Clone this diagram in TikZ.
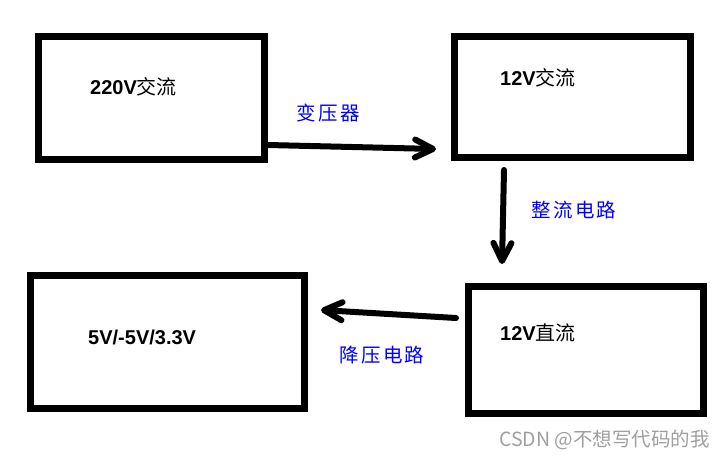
\documentclass[tikz,border=0pt]{standalone}
\usepackage{fontspec}
\setmainfont{Liberation Sans}
\newfontfamily\cjk{Noto Sans CJK SC}
\newfontfamily\cjklab[LetterSpace=12]{Noto Sans CJK SC}
\usetikzlibrary{arrows.meta}

\begin{document}
\begin{tikzpicture}[x=1pt,y=-1pt,
  box/.style={draw,line width=7pt,inner sep=0pt,outer sep=0pt},
  txt/.style={anchor=west,inner sep=0pt,font=\fontsize{20}{20}\selectfont},
  lab/.style={text=blue,inner sep=0pt,font=\fontsize{19.5}{19.5}\selectfont\cjklab},
  arr/.style={line width=6pt,line cap=round,-{Straight Barb[length=18pt,width=18pt,line cap=round,line join=round]}}]
  \useasboundingbox (0,0) rectangle (726,459);
  % bloky
  \node[box,minimum width=226pt,minimum height=123pt] (ac220) at (151.5,98) {};
  \node[box,minimum width=236pt,minimum height=121pt] (ac12) at (572.5,97) {};
  \node[box,minimum width=274pt,minimum height=133pt] (out) at (167.5,342) {};
  \node[box,minimum width=235pt,minimum height=127pt] (dc12) at (586,350) {};
  \node[txt] (t220) at (90,87) {\textbf{220V}{\cjk 交流}};
  \node[txt] (t12a) at (500,78) {\textbf{12V}{\cjk 交流}};
  \node[txt] (tout) at (88,337) {\textbf{5V/-5V/3.3V}};
  \node[txt] (t12d) at (500,333) {\textbf{12V}{\cjk 直流}};
  % sipky
  \coordinate (a1) at (268,145);
  \coordinate (b1) at (436,149);
  \coordinate (a2) at (504,170);
  \coordinate (b2) at (502,264);
  \coordinate (a3) at (456,318);
  \coordinate (b3) at (321,310);
  \draw[arr] (a1) -- (b1);
  \draw[arr] (a2) -- (b2);
  \draw[arr] (a3) -- (b3);
  \node[lab] (l1) at (328,113) {变压器};
  \node[lab] (l2) at (574,210) {整流电路};
  \node[lab] (l3) at (382,355) {降压电路};
  \node[text=gray!75,inner sep=0pt,anchor=east,font=\fontsize{19.5}{19.5}\selectfont\cjk] (wm) at (710,440) {CSDN @不想写代码的我};
\end{tikzpicture}
\end{document}
